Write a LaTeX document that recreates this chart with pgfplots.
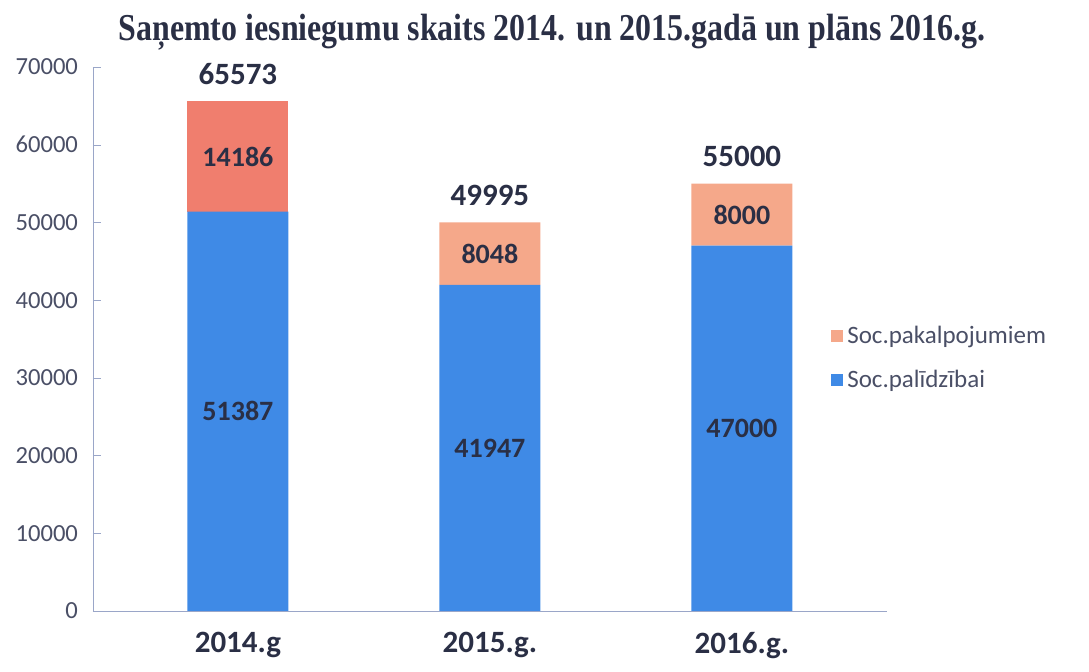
\documentclass[border=0pt]{standalone}
\usepackage{pgfplots}
\pgfplotsset{compat=1.18}
\usepackage{graphicx}
\usepackage{fontspec}
\setmainfont{Carlito}
\newfontfamily\titlefont{Liberation Serif}
\definecolor{barblue}{HTML}{3F8AE6}
\definecolor{barsalmon}{HTML}{F5A88A}
\definecolor{barred}{HTML}{F07E6E}
\definecolor{ticktext}{HTML}{4A4F66}
\definecolor{lbltext}{HTML}{2A2F45}
\definecolor{axisline}{HTML}{9AA6C8}
\tikzset{lbl/.style={font=\bfseries\fontsize{14}{16}\selectfont, text=lbltext, anchor=center}}
\pgfplotsset{
  common/.style={
    at={(46.5pt,30.5pt)}, anchor=south west,
    scale only axis, width=396.9pt, height=272pt,
    bar width=50.5pt,
    xmin=-0.575, xmax=2.575, ymin=0, ymax=70000,
  },
}
\begin{document}
\begin{tikzpicture}
\useasboundingbox (0,0) rectangle (544.5pt,336pt);
\node[font=\titlefont\bfseries\fontsize{19}{22}\selectfont, text=lbltext] at (276pt,320pt) {\scalebox{0.84}[1]{Saņemto iesniegumu skaits 2014. un 2015.gadā un plāns 2016.g.}};
\begin{axis}[
  common,
  ybar stacked,
  xtick={0,1,2}, xticklabels={2014.g,2015.g.,2016.g.},
  xticklabel style={font=\bfseries\fontsize{15.5}{18}\selectfont, text=lbltext, yshift=-7pt},
  major x tick style={draw=none},
  ytick={0,10000,...,70000},
  yticklabel style={font=\fontsize{12.3}{14}\selectfont, text=ticktext, xshift=-4pt},
  /pgf/number format/assume math mode=true,
  scaled y ticks=false,
  yticklabel={\pgfmathprintnumber[fixed,1000 sep={}]{\tick}},
  axis x line*=bottom, axis y line*=left,
  axis line style={draw=axisline, -},
  y tick style={draw=axisline}, major tick length=4pt,
  legend style={at={(0.922,0.465)}, anchor=west, draw=none, fill=none,
    font=\fontsize{12.5}{15}\selectfont, text=ticktext, row sep=8pt,
    /tikz/every even column/.append style={column sep=2pt}},
  legend cell align=left,
  legend image code/.code={\fill[#1] (0pt,-3pt) rectangle (6pt,3pt);},
  reverse legend,
]
\addplot[fill=barblue, draw=none,
  nodes near coords, point meta=explicit symbolic,
  every node near coord/.append style={lbl},
  nodes near coords align=center]
 coordinates {(0,51387)[51387] (1,41947)[41947] (2,47000)[47000]};
\addlegendentry{Soc.palīdzībai}
\addplot[fill=barred, draw=none, forget plot,
  nodes near coords, point meta=explicit symbolic,
  every node near coord/.append style={lbl},
  nodes near coords align=center]
 coordinates {(0,14186)[14186] (1,0)[] (2,0)[]};
\addplot[fill=barsalmon, draw=none,
  nodes near coords, point meta=explicit symbolic,
  every node near coord/.append style={lbl},
  nodes near coords align=center]
 coordinates {(0,0)[] (1,8048)[8048] (2,8000)[8000]};
\addlegendentry{Soc.pakalpojumiem}
\end{axis}
\begin{axis}[
  common, ybar, hide axis,
]
\addplot[draw=none, fill=none,
  nodes near coords, point meta=explicit symbolic,
  every node near coord/.append style={font=\bfseries\fontsize{15.5}{18}\selectfont, text=lbltext, anchor=south, yshift=5pt}]
 coordinates {(0,65573)[65573] (1,49995)[49995] (2,55000)[55000]};
\end{axis}
\end{tikzpicture}
\end{document}
